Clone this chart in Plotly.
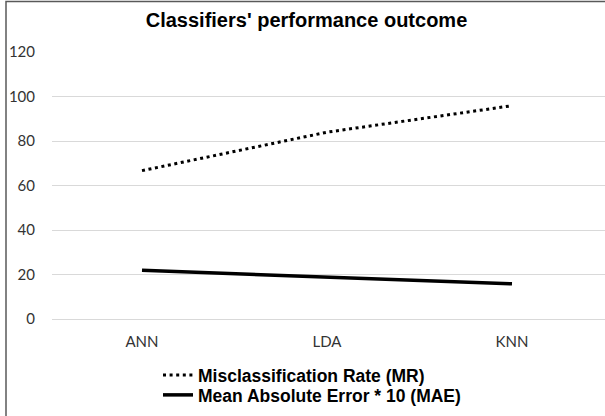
import plotly.graph_objects as go

categories = ["ANN", "LDA", "KNN"]
mr_values = [66.7, 84.0, 95.9]
mae_values = [21.9, 18.7, 15.8]
y_ticks = [0, 20, 40, 60, 80, 100, 120]

W, H = 605, 416
ML, MR_, MT, MB = 52, 0, 52, 97
pw = W - ML - MR_
ph = H - MT - MB

def px_x(p):
    return (p - ML) / pw

def px_y(p):
    return (H - MB - p) / ph

fig = go.Figure()
fig.add_trace(go.Scatter(
    x=categories, y=mr_values, mode="lines", name="Misclassification Rate (MR)",
    line=dict(color="#000000", width=3, dash="3px,3.6px"), legend="legend",
))
fig.add_trace(go.Scatter(
    x=categories, y=mae_values, mode="lines", name="Mean Absolute Error * 10 (MAE)",
    line=dict(color="#000000", width=3.5), legend="legend2",
))

legend_font = dict(family="Liberation Sans, Arial, sans-serif", size=17.5,
                   color="#000000", weight="bold")

fig.update_layout(
    width=W, height=H,
    margin=dict(l=ML, r=MR_, t=MT, b=MB),
    paper_bgcolor="#ffffff", plot_bgcolor="#ffffff",
    title=dict(
        text="<b>Classifiers' performance outcome</b>",
        font=dict(family="Liberation Sans, Arial, sans-serif", size=20, color="#000000"),
        x=306.5 / W, xanchor="center", xref="container",
        y=1 - 20 / H, yanchor="middle", yref="container",
    ),
    xaxis=dict(
        type="category",
        range=[-(142 - ML) / 185, 2 + (605 - 512) / 185],
        showgrid=False, showline=False, zeroline=False,
        tickfont=dict(family="Lato, Open Sans, sans-serif", size=15, color="#333333"),
        ticks="", ticklabelstandoff=12,
    ),
    yaxis=dict(
        range=[0, 120.05],
        tickvals=y_ticks,
        showgrid=True, gridcolor="#d9d9d9", gridwidth=1,
        zeroline=True, zerolinecolor="#d9d9d9", zerolinewidth=1,
        showline=False,
        tickfont=dict(family="Lato, Open Sans, sans-serif", size=15, color="#333333"),
        ticks="", ticklabelstandoff=16,
    ),
    legend=dict(
        x=px_x(158), xanchor="left", y=px_y(375), yanchor="middle",
        font=legend_font, bgcolor="rgba(0,0,0,0)", borderwidth=0,
    ),
    legend2=dict(
        x=px_x(158), xanchor="left", y=px_y(395), yanchor="middle",
        font=legend_font, bgcolor="rgba(0,0,0,0)", borderwidth=0,
    ),
    showlegend=True,
)

fig.add_shape(
    type="rect", xref="paper", yref="paper",
    x0=px_x(6), x1=px_x(640), y0=px_y(450), y1=px_y(1.5),
    line=dict(color="#595959", width=1.5), fillcolor="rgba(0,0,0,0)", layer="above",
)

fig.write_html("out.html")
